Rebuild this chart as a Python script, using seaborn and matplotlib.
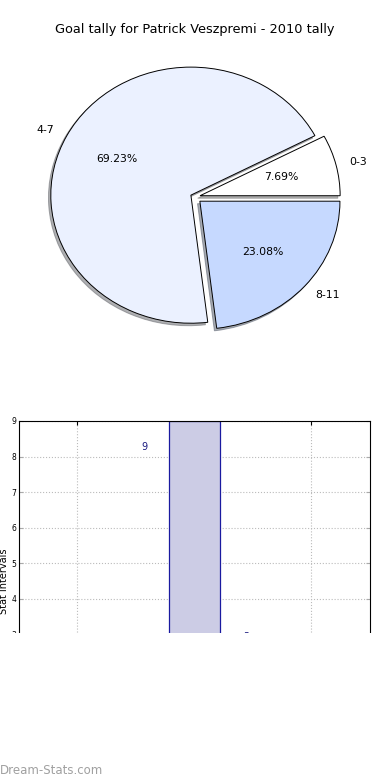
import matplotlib
matplotlib.use("Agg")
import matplotlib.pyplot as plt
import seaborn as sns
import pandas as pd
from matplotlib.patches import Rectangle

sns.set_style("white")
plt.rcParams['font.family'] = ['DejaVu Sans']
plt.rcParams['text.color'] = 'black'
plt.rcParams['axes.labelcolor'] = 'black'
plt.rcParams['xtick.color'] = 'black'
plt.rcParams['ytick.color'] = 'black'

# ---- data ----
categories = ["0-3", "4-7", "8-11"]
goal_counts = [1, 9, 3]
pie_colors = ["#ffffff", "#ebf1ff", "#c6d9ff"]
bar_values = [1, 9, 3]
label_x = [-0.5, 0.57, 1.44]
label_y = [0.92, 8.28, 3.06]
title = "Goal tally for Patrick Veszpremi - 2010 tally"

fig = plt.figure(figsize=(3.9, 7.8), dpi=100)

# ---- pie ----
ax_pie = fig.add_axes([0.05, 0.5505, 0.898, 0.394])
ax_pie.pie(goal_counts, labels=categories, colors=pie_colors,
           autopct="%.2f%%", explode=[0.04, 0.03, 0.05],
           shadow=dict(ox=-0.012, oy=-0.014, shade=0.6),
           startangle=0, counterclock=True,
           wedgeprops=dict(edgecolor="black", linewidth=0.7),
           textprops=dict(fontsize=7.8, color="black"))
ax_pie.set_aspect("auto")
ax_pie.set_xlim(-1.25, 1.25)
ax_pie.set_ylim(-1.2, 1.2)
ax_pie.axis("off")
fig.text(0.5, 0.962, title, ha="center", va="center", fontsize=9.3)

# ---- bar ----
ax_bar = fig.add_axes([0.0487, 0.05, 0.9, 0.4103])
df = pd.DataFrame({"interval": categories, "value": bar_values})
sns.barplot(data=df, x="interval", y="value", ax=ax_bar, width=0.44,
            color="#ccccE5", edgecolor="#1a1aa0", linewidth=0.9,
            saturation=1, zorder=2)
ax_bar.set_xlim(-0.5, 2.5)
ax_bar.set_ylim(0, 9)
ax_bar.set_yticks(range(0, 10))
ax_bar.grid(True, linestyle=":", color="#bbbbbb", linewidth=0.8, zorder=0)
ax_bar.set_axisbelow(True)
ax_bar.tick_params(axis="y", labelsize=5.5, direction="in", length=3,
                   right=True, left=True, color="#aaaaaa", pad=2)
ax_bar.tick_params(axis="x", labelsize=6, direction="in", length=3, top=True)
ax_bar.set_xlabel("")
ax_bar.set_ylabel("Stat intervals", fontsize=7, labelpad=2)
for sp in ax_bar.spines.values():
    sp.set_color("black")
    sp.set_linewidth(0.8)
for x, y, v in zip(label_x, label_y, bar_values):
    ax_bar.text(x, y, str(v), ha="center", va="top" if v < 5 else "center",
                fontsize=7, color="#1a1a80", zorder=3)

# crop the lower part of the bar panel like the reference
fig.patches.append(Rectangle((0, 0), 1, (780 - 633) / 780,
                             transform=fig.transFigure, facecolor="white",
                             edgecolor="none", zorder=10))
fig.text(0.0, 0.004, "Dream-Stats.com", ha="left", va="bottom",
         fontsize=8.5, color="#a0a0a0", zorder=11)

fig.savefig("out.png", dpi=100)
